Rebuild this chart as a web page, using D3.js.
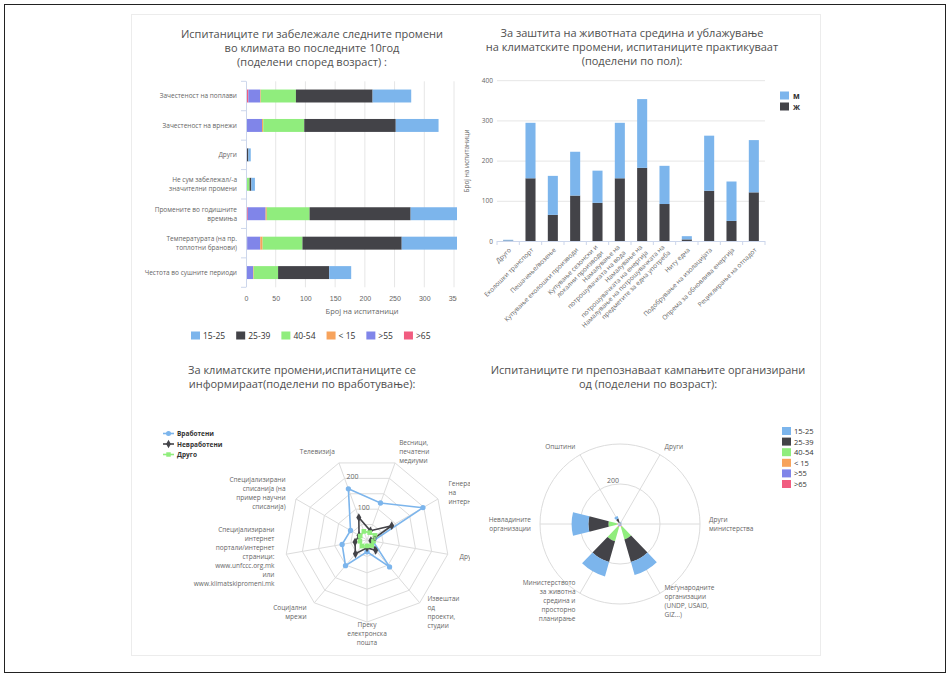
<!DOCTYPE html>
<html><head><meta charset="utf-8">
<script src="https://cdn.jsdelivr.net/npm/d3@7"></script>
<style>
body{margin:0;background:#fff}
svg{display:block;font-family:"Open Sans",sans-serif}
</style>
</head><body>
<svg id="c" width="951" height="678"></svg>
<script>
// ---------- data: observed climate changes by age ----------
const changeCategories = ["Зачестеност на поплави","Зачестеност на врнежи","Други","Не сум забележал/-а\nзначителни промени","Промените во годишните\nвремиња","Температурата (на пр.\nтоплотни бранови)","Честота во сушните периоди"];
const ageKeys = ["15-25","25-39","40-54","< 15",">55",">65"];
const change15_25 = [65, 72, 4, 6, 95, 100, 37];
const change25_39 = [129, 154, 3, 3, 170, 167, 86];
const change40_54 = [59, 69, 0, 6, 72, 67, 41];
const changeUnder15 = [1, 2, 0, 0, 2, 4, 1];
const change55 = [20, 26, 1, 0, 30, 22, 12];
const change65 = [4, 1, 0, 0, 3, 2, 0];
const changeTicks = [0, 50, 100, 150, 200, 250, 300, 350, 400];

// ---------- data: practices by gender ----------
const practiceCategories = ["Друго","Еколошки транспорт","Пешачење/возење","Купување еколошки производи","Купување сезонски и\nлокални производи","Намалување на\nпотрошувачката на вода","Намалување на\nпотрошувачката на енергија","Намалување на потрошувачката на\nпредметите за една употреба","Ниту една","Подобрување на изолацијата","Опрема за обновлива енергија","Рециклирање на отпадот"];
const genderKeys = ["м","ж"];
const practiceMale = [2, 138, 97, 109, 80, 138, 171, 95, 8, 137, 98, 130];
const practiceFemale = [1, 156, 65, 113, 95, 156, 182, 92, 4, 125, 50, 121];
const practiceTicks = [0, 100, 200, 300, 400];

// ---------- data: information sources by employment ----------
const sourceCategories = ["Весници,\nпечатени\nмедиуми","Генерално\nна\nинтернет","Други","Извештаи\nод\nпроекти,\nстудии","Преку\nелектронска\nпошта","Социјални\nмрежи","Специјализирани\nинтернет\nпортали/интернет\nстраници:\nwww.unfccc.org.mk\nили\nwww.klimatskipromeni.mk","Специјализирани\nсписанија (на\nпример научни\nсписанија)","Телевизија"];
const employKeys = ["Вработени","Невработени","Друго"];
const sourceEmployed = [120, 197, 18, 107, 36, 102, 77, 58, 166];
const sourceUnemployed = [30, 87, 12, 41, 24, 55, 37, 28, 73];
const sourceOther = [24, 28, 20, 22, 18, 24, 22, 24, 28];
const sourceTicks = [50, 100, 150, 200, 250];
const sourceTickLabels = [0, 100, 200];

// ---------- data: recognised campaigns by age ----------
const campaignCategories = ["Други","Други\nминистерства","Меѓународните\nорганизации\n(UNDP, USAID,\nGIZ...)","Министерството\nза животна\nсредина и\nпросторно\nпланирање","Невладините\nорганизации","Општини"];
const campaign15_25 = [4, 3, 67, 75, 84, 14];
const campaign25_39 = [5, 4, 118, 108, 100, 22];
const campaign40_54 = [1, 1, 64, 72, 42, 2];
const campaignUnder15 = [0, 0, 4, 4, 4, 0];
const campaign55 = [2, 2, 10, 12, 10, 4];
const campaign65 = [0, 0, 2, 2, 2, 0];
const campaignTicks = [200, 400];

// ---------- styling ----------
const ageColors = {"15-25":"#7cb5ec","25-39":"#434348","40-54":"#90ed7d","< 15":"#f7a35c",">55":"#8085e9",">65":"#f15c80"};
const genderColors = {"м":"#7cb5ec","ж":"#434348"};
const employColors = {"Вработени":"#7cb5ec","Невработени":"#434348","Друго":"#90ed7d"};
const gridColor = "#e6e6e6", axisColor = "#ccd6eb", labelColor = "#666", titleColor = "#505050";

const svg = d3.select("#c");
const defs = svg.append("defs");
function clip(id, x, y, w, h) {
  defs.append("clipPath").attr("id", id).append("rect").attr("x", x).attr("y", y).attr("width", w).attr("height", h);
}
clip("clipA", 131, 14, 326, 342);
clip("clipC", 131, 356, 339, 300);

// outer frame and card
svg.append("rect").attr("x", 4.5).attr("y", 4.5).attr("width", 941).attr("height", 668)
  .attr("fill", "none").attr("stroke", "#222");
svg.append("rect").attr("x", 131.5).attr("y", 14.5).attr("width", 689).attr("height", 641)
  .attr("fill", "#fff").attr("stroke", "#ececec");

function title(g, lines, cx, y0) {
  const t = g.append("text").attr("text-anchor", "middle").attr("fill", titleColor).attr("font-size", 11);
  lines.forEach((l, i) => t.append("tspan").attr("x", cx).attr("y", y0 + i * 14).text(l));
}
function multiline(g, str, x, yc, anchor, size, lh, color) {
  const lines = str.split("\n");
  const t = g.append("text").attr("text-anchor", anchor).attr("fill", color || labelColor).attr("font-size", size);
  const top = yc - (lines.length - 1) * lh / 2 + size * 0.35;
  lines.forEach((l, i) => t.append("tspan").attr("x", x).attr("y", top + i * lh).text(l));
  return t;
}

// =============== Chart A: horizontal stacked bars ===============
{
  const g = svg.append("g").attr("clip-path", "url(#clipA)");
  title(g, ["Испитаниците ги забележале следните промени", "во климата во последните 10год", "(поделени според возраст) :"], 312, 38);

  const rows = changeCategories.map((c, i) => ({cat: c, "15-25": change15_25[i], "25-39": change25_39[i], "40-54": change40_54[i], "< 15": changeUnder15[i], ">55": change55[i], ">65": change65[i]}));
  const x = d3.scaleLinear().domain([0, 400]).range([246, 246 + 400 * 0.5943]);
  const y = d3.scaleBand().domain(changeCategories).range([81.3, 287.3]).paddingInner(0.56).paddingOuter(0.28);

  // grid
  g.append("g").selectAll("line").data(changeTicks.slice(1)).join("line")
    .attr("x1", d => x(d)).attr("x2", d => x(d)).attr("y1", 81.3).attr("y2", 287.3)
    .attr("stroke", gridColor);

  const stackOrder = [">65", ">55", "< 15", "40-54", "25-39", "15-25"];
  const series = d3.stack().keys(stackOrder)(rows);
  g.append("g").selectAll("g").data(series).join("g").attr("fill", s => ageColors[s.key])
    .selectAll("rect").data(s => s).join("rect")
    .attr("x", d => x(d[0])).attr("width", d => x(d[1]) - x(d[0]))
    .attr("y", d => y(d.data.cat)).attr("height", y.bandwidth());

  // category axis
  const ax = g.append("g");
  ax.append("line").attr("x1", 246.5).attr("x2", 246.5).attr("y1", 81.3).attr("y2", 287.3).attr("stroke", axisColor);
  const bounds = changeCategories.map(c => y(c) - y.step() * y.paddingInner() / 2).concat([287.3]);
  ax.selectAll("line.t").data(bounds).join("line").attr("class", "t")
    .attr("x1", 241).attr("x2", 246).attr("y1", d => d).attr("y2", d => d).attr("stroke", axisColor);
  changeCategories.forEach(c => multiline(ax, c, 237, y(c) + y.bandwidth() / 2, "end", 6.5, 9));

  // value axis
  const xa = g.append("g").attr("transform", "translate(0,287.3)")
    .call(d3.axisBottom(x).tickValues(changeTicks).tickSize(0).tickPadding(9));
  xa.select(".domain").remove();
  xa.selectAll("text").attr("fill", labelColor).attr("font-size", 7).attr("font-family", null);
  g.append("text").attr("x", x(0) + (454 - 246) / 2 + 12).attr("y", 314).attr("text-anchor", "middle")
    .attr("fill", labelColor).attr("font-size", 7.5).text("Број на испитаници");

  // legend
  let lx = 191;
  ageKeys.forEach(k => {
    g.append("rect").attr("x", lx).attr("y", 331.5).attr("width", 9).attr("height", 8).attr("fill", ageColors[k]);
    const t = g.append("text").attr("x", lx + 12).attr("y", 338.5).attr("font-size", 8.5).attr("fill", "#333").text(k);
    lx += 12 + t.node().getComputedTextLength() + 11;
  });
}

// =============== Chart B: vertical stacked columns ===============
{
  const g = svg.append("g");
  title(g, ["За заштита на животната средина и ублажување", "на климатските промени, испитаниците практикуваат", "(поделени по пол):"], 632, 37);

  const rows = practiceCategories.map((c, i) => ({cat: c, "м": practiceMale[i], "ж": practiceFemale[i]}));
  const x = d3.scaleBand().domain(practiceCategories).range([497, 765]).paddingInner(0.55).paddingOuter(0.275);
  const y = d3.scaleLinear().domain([0, 400]).range([241, 80.2]);

  g.append("g").selectAll("line").data(practiceTicks).join("line")
    .attr("x1", 497).attr("x2", 765).attr("y1", d => y(d) + 0.5).attr("y2", d => y(d) + 0.5).attr("stroke", gridColor);
  g.append("g").selectAll("text").data(practiceTicks).join("text")
    .attr("x", 493).attr("y", d => y(d) + 2.5).attr("text-anchor", "end").attr("fill", labelColor).attr("font-size", 6.5).text(d => d);
  g.append("text").attr("transform", "translate(469,161) rotate(-90)").attr("text-anchor", "middle")
    .attr("fill", labelColor).attr("font-size", 6.5).text("Број на испитаници");

  const series = d3.stack().keys(["ж", "м"])(rows);
  g.append("g").selectAll("g").data(series).join("g").attr("fill", s => genderColors[s.key])
    .selectAll("rect").data(s => s).join("rect")
    .attr("x", d => x(d.data.cat)).attr("width", x.bandwidth())
    .attr("y", d => y(d[1])).attr("height", d => y(d[0]) - y(d[1]));

  g.append("line").attr("x1", 497).attr("x2", 765).attr("y1", 241.5).attr("y2", 241.5).attr("stroke", axisColor);
  const bounds = practiceCategories.map(c => x(c) - x.step() * x.paddingInner() / 2).concat([765]);
  g.selectAll("line.t").data(bounds).join("line").attr("class", "t")
    .attr("x1", d => d).attr("x2", d => d).attr("y1", 241).attr("y2", 245).attr("stroke", axisColor);
  practiceCategories.forEach(c => {
    const cx = x(c) + x.bandwidth() / 2;
    const lines = c.split("\n");
    const t = g.append("text").attr("transform", `translate(${cx + 2},${249}) rotate(-45)`)
      .attr("text-anchor", "end").attr("fill", labelColor).attr("font-size", 6.5);
    lines.forEach((l, i) => t.append("tspan").attr("x", 0).attr("y", (i - (lines.length - 1) / 2) * 8 + 2).text(l));
  });

  genderKeys.forEach((k, i) => {
    g.append("rect").attr("x", 780).attr("y", 91.5 + i * 11).attr("width", 9).attr("height", 8).attr("fill", genderColors[k]);
    g.append("text").attr("x", 793).attr("y", 98.5 + i * 11).attr("font-size", 8).attr("font-weight", "bold").attr("fill", "#333").text(k);
  });
}

// polar label helper
function polarLabel(g, str, cx, cy, r, angDeg, thr) {
  const a = angDeg * Math.PI / 180;
  const px = cx + r * Math.sin(a), py = cy - r * Math.cos(a);
  const s = Math.sin(a);
  const anchor = s > thr ? "start" : (s < -thr ? "end" : "middle");
  multiline(g, str, px, py, anchor, 6.5, 9);
}

// =============== Chart C: radar lines ===============
{
  const g = svg.append("g").attr("clip-path", "url(#clipC)");
  title(g, ["За климатските промени,испитаниците се", "информираат(поделени по вработување):"], 302, 374);

  const cx = 367, cy = 540, R = 82;
  const r = d3.scaleLinear().domain([0, 250]).range([0, R]);
  const n = sourceCategories.length;
  const ang = i => 20 + i * 360 / n;
  const pt = (i, v) => { const a = ang(i) * Math.PI / 180; return [cx + r(v) * Math.sin(a), cy - r(v) * Math.cos(a)]; };

  // grid polygons and spokes
  sourceTicks.forEach(t => {
    g.append("path").attr("d", d3.line()(d3.range(n).map(i => pt(i, t))) + "Z")
      .attr("fill", "none").attr("stroke", "#dcdcdc");
  });
  d3.range(n).forEach(i => {
    const [x2, y2] = pt(i, 250);
    g.append("line").attr("x1", cx).attr("y1", cy).attr("x2", x2).attr("y2", y2).attr("stroke", "#dcdcdc");
  });
  sourceCategories.forEach((c, i) => polarLabel(g, c, cx, cy, R + 12, ang(i), 0.34));

  const data = {"Вработени": sourceEmployed, "Невработени": sourceUnemployed, "Друго": sourceOther};
  const line = d3.lineRadial().angle((d, i) => ang(i) * Math.PI / 180).radius(d => r(d)).curve(d3.curveLinearClosed);
  const symbols = {"Вработени": d3.symbolCircle, "Невработени": d3.symbolDiamond, "Друго": d3.symbolSquare};
  employKeys.forEach(k => {
    const s = g.append("g").attr("transform", `translate(${cx},${cy})`);
    s.append("path").attr("d", line(data[k])).attr("fill", "none").attr("stroke", employColors[k]).attr("stroke-width", 1.6);
    data[k].forEach((v, i) => {
      const [px, py] = pt(i, v);
      s.append("path").attr("transform", `translate(${px - cx},${py - cy})`)
        .attr("d", d3.symbol().type(symbols[k]).size(22)()).attr("fill", employColors[k]);
    });
  });

  // radial tick labels
  sourceTickLabels.forEach(t => {
    const [px, py] = pt(8, t);
    g.append("text").attr("x", px + 8).attr("y", py + 1).attr("text-anchor", "middle")
      .attr("fill", labelColor).attr("font-size", 7).text(t);
  });

  // legend
  employKeys.forEach((k, i) => {
    const ly = 433.5 + i * 10.5;
    g.append("line").attr("x1", 163).attr("x2", 174).attr("y1", ly).attr("y2", ly).attr("stroke", employColors[k]).attr("stroke-width", 1.6);
    g.append("path").attr("transform", `translate(168.5,${ly})`).attr("d", d3.symbol().type(symbols[k]).size(20)()).attr("fill", employColors[k]);
    g.append("text").attr("x", 177).attr("y", ly + 2.5).attr("font-size", 6.5).attr("font-weight", "bold").attr("fill", "#333").text(k);
  });
}

// =============== Chart D: polar stacked columns ===============
{
  const g = svg.append("g");
  title(g, ["Испитаниците ги препознаваат кампањите организирани", "од (поделени по возраст):"], 648, 374);

  const cx = 620, cy = 524, R = 80;
  const r = d3.scaleLinear().domain([0, 400]).range([0, R]);
  const n = campaignCategories.length;
  const ang = i => 30 + i * 360 / n;

  campaignTicks.forEach(t => g.append("circle").attr("cx", cx).attr("cy", cy).attr("r", r(t))
    .attr("fill", "none").attr("stroke", "#dcdcdc"));
  d3.range(n).forEach(i => {
    const a = ang(i) * Math.PI / 180;
    g.append("line").attr("x1", cx).attr("y1", cy).attr("x2", cx + R * Math.sin(a)).attr("y2", cy - R * Math.cos(a)).attr("stroke", "#dcdcdc");
  });
  campaignCategories.forEach((c, i) => polarLabel(g, c, cx, cy, R + 9, ang(i), 0.1));
  g.append("text").attr("x", cx - 7).attr("y", cy - r(200) - 1).attr("text-anchor", "middle")
    .attr("fill", labelColor).attr("font-size", 7).text("200");

  const rows = campaignCategories.map((c, i) => ({i, "15-25": campaign15_25[i], "25-39": campaign25_39[i], "40-54": campaign40_54[i], "< 15": campaignUnder15[i], ">55": campaign55[i], ">65": campaign65[i]}));
  const series = d3.stack().keys([">65", ">55", "< 15", "40-54", "25-39", "15-25"])(rows);
  const half = 14 * Math.PI / 180;
  const arc = d3.arc().innerRadius(d => r(d[0])).outerRadius(d => r(d[1]))
    .startAngle(d => ang(d.data.i) * Math.PI / 180 - half).endAngle(d => ang(d.data.i) * Math.PI / 180 + half);
  g.append("g").attr("transform", `translate(${cx},${cy})`).selectAll("g").data(series).join("g")
    .attr("fill", s => ageColors[s.key])
    .selectAll("path").data(s => s.filter(d => d[1] > d[0])).join("path").attr("d", arc);

  ageKeys.forEach((k, i) => {
    const ly = 431 + i * 10.6;
    g.append("rect").attr("x", 782).attr("y", ly - 4).attr("width", 9).attr("height", 8).attr("fill", ageColors[k]);
    g.append("text").attr("x", 794).attr("y", ly + 3).attr("font-size", 7.5).attr("fill", "#333").text(k);
  });
}
</script>
</body></html>
